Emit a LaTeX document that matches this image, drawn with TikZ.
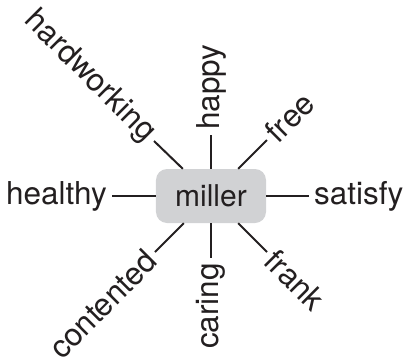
\documentclass[tikz,border=0pt]{standalone}
\usepackage{fontspec}
\setmainfont{TeX Gyre Heros}
\definecolor{boxgray}{RGB}{209,210,212}
\definecolor{ink}{RGB}{35,31,32}
\begin{document}
\begin{tikzpicture}[x=1bp,y=-1bp,
  word/.style={font=\fontsize{31.5bp}{38bp}\selectfont, text=ink, inner sep=5bp},
  center/.style={font=\fontsize{30bp}{36bp}\selectfont, text=ink, fill=boxgray, rounded corners=11bp, minimum width=110bp, minimum height=54bp, inner sep=0pt},
  spoke/.style={draw=ink, line width=2bp}]
\useasboundingbox (0,0) rectangle (405,359);
\node[center] (m) at (211,196) {miller};
\node[word, anchor=east] (healthy) at (112,196) {healthy};
\node[word, anchor=west] (satisfy) at (309,196) {satisfy};
\node[word, rotate=90, anchor=west] (happy) at (211,135) {happy};
\node[word, rotate=90, anchor=east] (caring) at (211,258) {caring};
\node[word, rotate=45, anchor=west] (free) at (267,140) {free};
\node[word, rotate=-45, anchor=west] (frank) at (267,252) {frank};
\node[word, rotate=-45, anchor=east] (hardworking) at (154,141) {hardworking};
\node[word, rotate=45, anchor=east] (contented) at (155,252) {contented};
\draw[spoke] (m) -- (healthy.east);
\draw[spoke] (m) -- (satisfy.west);
\draw[spoke] (m) -- (happy.west);
\draw[spoke] (m) -- (caring.east);
\draw[spoke] (m) -- (free.west);
\draw[spoke] (m) -- (frank.west);
\draw[spoke] (m) -- (hardworking.east);
\draw[spoke] (m) -- (contented.east);
\end{tikzpicture}
\end{document}
